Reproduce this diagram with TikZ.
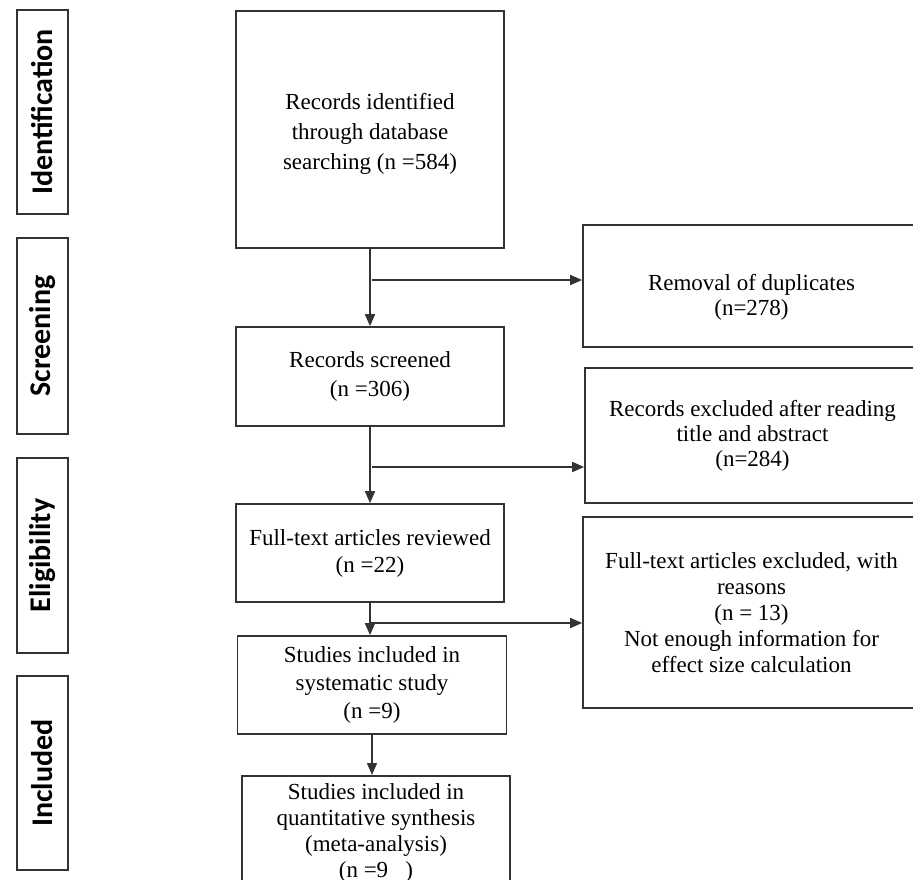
\documentclass[tikz,border=0pt]{standalone}
\usepackage{fontspec}
\setmainfont{Liberation Serif}
\newfontfamily\etapefont{Carlito}
\usetikzlibrary{arrows.meta}
\definecolor{trait}{HTML}{333333}
\tikzset{
  boite/.style={draw=trait, line width=1.7pt, align=center, inner sep=2pt,
    font=\fontsize{23}{27}\selectfont},
  interligne/.style={font=\fontsize{23}{#1}\selectfont},
  etape/.style={draw=trait, line width=1.7pt, rotate=90, inner sep=0pt,
    minimum height=51pt, font=\etapefont\bfseries\fontsize{30}{32}\selectfont},
  fleche/.style={draw=trait, line width=1.7pt, -{Triangle[length=12pt,width=10pt]}}
}
\begin{document}
\begin{tikzpicture}[x=1pt,y=-1pt]
\useasboundingbox (0,0) rectangle (913,879);
\clip (0,0) rectangle (913,879);

%% les étapes à gauche
\node[etape, minimum width=204pt] (ident) at (42.5,112) {Identification};
\node[etape, minimum width=196pt] (screen) at (42.5,336) {Screening};
\node[etape, minimum width=195pt] (elig) at (42.5,555.5) {Eligibility};
\node[etape, minimum width=194pt] (incl) at (42.5,773) {Included};

%% la colonne principale
\node[boite, interligne=30, minimum width=268pt, minimum height=237pt] (records) at (370,129.5)
  {\rule{0pt}{24pt}Records identified\\ through database\\ searching (n =584)};
\node[boite, interligne=29, minimum width=268pt, minimum height=99pt] (screened) at (370,376.5)
  {Records screened\\ (n =306)};
\node[boite, minimum width=268pt, minimum height=98pt] (reviewed) at (370,553)
  {Full-text articles reviewed\\ (n =22)};
\node[boite, interligne=28, minimum width=269pt, minimum height=98pt] (systematic) at (372,685)
  {Studies included in\\ systematic study\\ (n =9)};
\node[boite, interligne=26, inner sep=0pt, minimum width=268pt, minimum height=115pt, anchor=north] (quanti) at (376,775)
  {Studies included in\\ quantitative synthesis\\ (meta-analysis)\\ (n =9\ \ \ )};

%% les exclusions à droite
\node[boite, interligne=25, minimum width=337pt, minimum height=122pt] (dupl) at (751.5,286)
  {\rule{0pt}{38pt}Removal of duplicates\\ (n=278)};
\node[boite, interligne=25, minimum width=335pt, minimum height=135pt] (excl) at (752.5,435.5)
  {Records excluded after reading\\ title and abstract\\ (n=284)};
\node[boite, interligne=26, minimum width=337pt, minimum height=191pt] (fulltext) at (751.5,612.5)
  {Full-text articles excluded, with\\ reasons\\ (n = 13)\\ Not enough information for\\ effect size calculation};

%% les flèches
\draw[fleche] (records.south) -- (screened.north);
\coordinate (j1) at (372,280);
\draw[fleche] (j1) -- (j1 -| dupl.west);

\draw[fleche] (screened.south) -- (reviewed.north);
\coordinate (j2) at (372,467);
\draw[fleche] (j2) -- (j2 -| excl.west);

\draw[fleche] (reviewed.south) -- (reviewed.south |- systematic.north);
\coordinate (j3) at (370,623);
\draw[fleche] (j3) -- (j3 -| fulltext.west);

\draw[fleche] (systematic.south) -- (systematic.south |- quanti.north);

\end{tikzpicture}
\end{document}
